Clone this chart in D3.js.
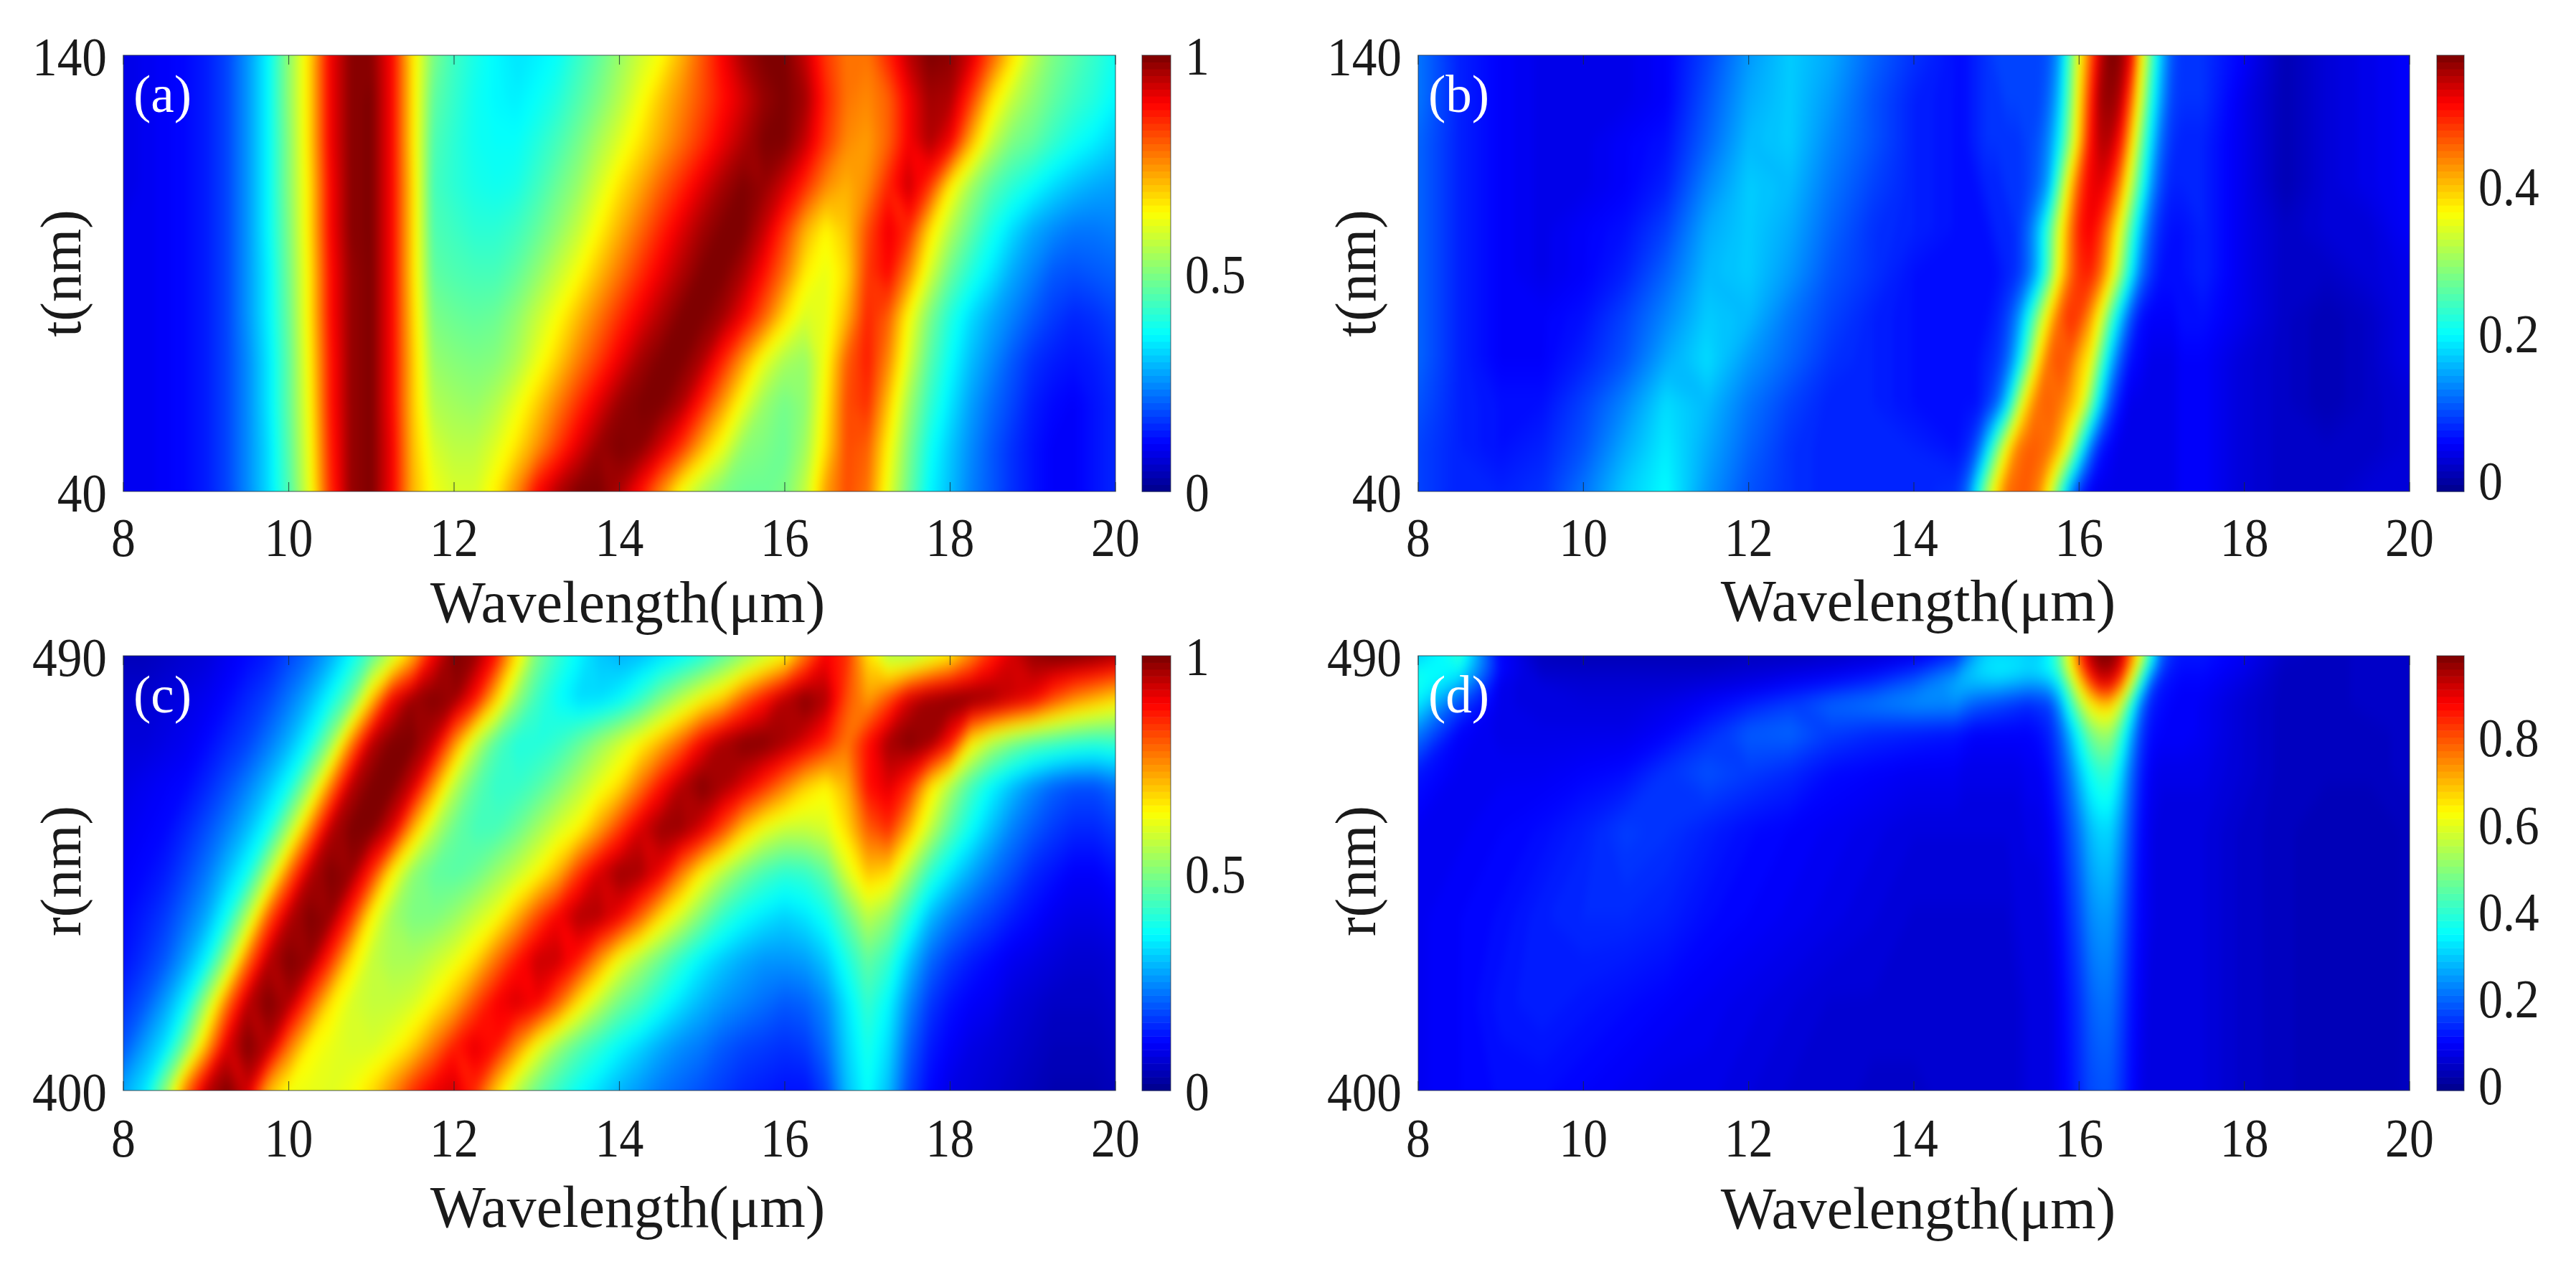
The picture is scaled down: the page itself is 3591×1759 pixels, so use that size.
<!DOCTYPE html>
<html>
<head>
<meta charset="utf-8">
<script src="https://cdnjs.cloudflare.com/ajax/libs/d3/7.8.5/d3.min.js"></script>
<style>
  html, body { margin: 0; background: #fff; }
  text { font-family: "Liberation Serif", serif; fill: #1a1a1a; }
</style>
</head>
<body>
<div id="chart"></div>
<script>
// wavelength columns (um). a and c are even, b and d are denser around the narrow band
const wideLambda = [8,8.25,8.5,8.75,9,9.25,9.5,9.75,10,10.25,10.5,10.75,11,11.25,11.5,11.75,12,12.25,12.5,12.75,13,13.25,13.5,13.75,14,14.25,14.5,14.75,15,15.25,15.5,15.75,16,16.25,16.5,16.75,17,17.25,17.5,17.75,18,18.25,18.5,18.75,19,19.25,19.5,19.75,20];
const narrowLambda = [8,8.5,9,9.5,10,10.5,11,11.5,12,12.5,13,13.5,14,14.5,14.625,14.75,14.875,15,15.125,15.25,15.375,15.5,15.625,15.75,15.875,16,16.125,16.25,16.375,16.5,16.625,16.75,16.875,17,17.125,17.25,17.5,18,18.5,19,19.5,20];

const tLevels = [40,50,60,70,80,90,100,110,120,130,140];
const rLevels = [400,409,418,427,436,445,454,463,472,481,490];
const rLevelsD = [400,418,436,454,466,474,480,484,487,490];

// values, in percent, one row per t or r, lowest first
const panelA = [
  [10,10,11,12,14,18,25,33,45,62,85,98,100,90,72,63,60,60,66,76,89,96,100,100,96,88,76,63,55,50,48,48,50,58,74,82,78,62,48,36,30,24,20,16,13,11,11,13,15],
  [10,10,11,12,14,18,25,33,46,63,86,98,100,90,71,60,57,57,61,67,75,84,92,98,100,99,93,84,72,62,52,50,48,54,68,82,80,65,50,38,31,25,20,16,13,11,11,13,15],
  [10,10,11,12,14,18,25,34,47,64,87,98,100,89,70,56,54,53,56,62,69,77,85,92,98,100,100,96,86,74,62,53,49,52,66,82,85,70,54,42,34,27,22,18,14,12,11,13,15],
  [10,10,11,12,14,18,25,34,47,65,87,98,100,89,70,53,51,50,51,55,62,69,77,84,91,97,100,100,96,86,74,62,55,53,64,80,87,76,60,46,37,30,25,20,16,14,13,14,16],
  [10,10,11,12,14,18,26,35,48,66,88,98,100,89,69,50,48,47,48,52,58,64,71,78,85,91,96,100,100,97,90,80,68,60,62,72,86,80,64,50,40,33,28,24,20,17,15,16,18],
  [10,10,11,12,14,18,26,35,49,66,88,98,100,89,68,47,45,44,44,47,52,58,64,71,78,85,91,96,100,100,96,88,78,66,62,68,84,89,76,60,48,40,34,28,24,20,19,20,21],
  [10,10,11,12,14,18,26,36,50,67,89,99,100,89,68,45,43,41,41,43,47,52,58,65,72,79,86,92,97,100,100,94,84,72,65,70,82,91,85,68,56,47,39,33,28,25,23,23,24],
  [9,10,11,12,14,18,26,36,51,67,89,99,100,89,68,44,41,39,38,39,43,48,53,60,67,73,80,86,92,97,100,98,93,85,76,72,76,86,94,84,66,54,46,41,37,33,30,28,27],
  [9,10,11,12,14,18,26,36,51,68,90,99,100,89,67,45,41,38,37,37,40,44,49,55,61,67,73,79,85,91,96,100,100,94,84,76,74,80,90,96,90,72,58,50,47,42,38,35,32],
  [9,10,11,12,14,18,26,36,52,68,90,99,100,89,67,47,42,38,36,35,37,40,45,50,56,63,70,76,82,88,93,98,100,97,86,78,76,80,90,97,96,84,68,58,52,47,43,40,36],
  [9,10,11,12,14,18,26,36,52,68,90,99,99,89,67,50,43,39,36,34,35,37,42,47,53,59,64,72,81,90,97,100,100,94,84,78,78,86,95,100,99,93,81,68,57,50,46,42,38]
];

const panelB = [
  [9,7,7,8,12,17,20,14,10,8,7,7,7,8,11,19,30,39,45,46,46,44,37,26,15,8,5,4,4,4,4,4,4,4,4,5,5,3,2,2,3,3],
  [9,7,6,7,10,15,19,15,11,8,7,7,7,6,7,10,17,27,37,44,46,46,45,41,34,23,13,7,5,4,4,4,4,4,4,5,5,3,2,2,2,3],
  [10,7,6,6,9,13,18,16,12,9,7,7,6,6,6,6,8,11,18,30,40,45,46,45,42,38,29,18,10,6,4,4,4,4,4,5,5,3,2,1,2,3],
  [11,7,5,5,7,10,15,18,14,11,8,7,6,6,6,6,7,8,11,17,27,38,45,47,46,41,37,27,17,10,6,5,4,4,4,5,5,3,2,1,2,4],
  [11,7,5,5,6,9,13,17,16,12,9,7,6,6,6,6,6,7,9,13,20,29,38,45,49,48,43,36,26,17,10,6,5,5,5,6,6,4,2,1,2,4],
  [11,7,5,4,5,7,11,16,17,14,10,8,6,6,6,6,6,6,7,8,11,16,25,36,44,49,50,46,39,30,20,12,8,6,6,6,7,4,2,2,3,4],
  [11,7,5,4,5,6,9,15,17,15,11,8,7,6,6,6,6,7,7,8,11,16,24,34,43,50,52,49,43,35,25,16,10,7,6,6,7,4,2,3,3,5],
  [11,7,5,4,4,5,7,13,17,16,12,9,7,6,6,6,7,7,8,8,9,11,15,26,38,47,52,53,50,43,33,23,14,9,7,7,7,4,1,3,4,5],
  [11,7,5,4,4,5,6,11,16,17,13,10,7,6,6,7,8,8,8,8,9,10,13,19,29,40,50,55,55,50,40,28,18,11,8,7,7,4,1,3,4,5],
  [12,7,5,4,4,4,5,10,15,17,14,10,7,6,6,7,8,8,9,9,9,9,11,16,26,38,48,56,57,55,46,34,22,14,9,8,8,4,1,3,4,5],
  [12,7,5,4,4,4,5,9,14,17,15,11,8,6,6,7,8,9,9,9,9,9,10,14,24,36,45,54,58,57,52,38,26,16,10,8,8,5,1,3,4,5]
];

const panelC = [
  [28,34,52,78,95,100,93,72,63,62,61,63,68,76,85,91,93,85,70,57,48,42,37,33,29,26,23,21,19,17,15,14,13,13,18,30,37,30,18,12,9,8,7,6,5,4,4,4,5],
  [20,27,34,50,72,92,100,95,78,65,62,60,60,63,69,78,87,92,88,76,63,53,46,41,36,32,28,25,23,20,18,17,16,17,22,32,39,33,21,14,11,9,8,7,6,5,5,5,6],
  [16,20,27,36,55,78,95,100,96,82,67,60,58,58,60,65,72,82,90,93,90,80,67,57,49,44,38,33,29,26,24,22,20,21,25,34,42,36,25,17,13,11,10,8,7,6,6,6,7],
  [13,16,20,27,36,54,78,95,100,98,85,68,58,55,55,58,62,68,78,87,94,94,87,75,63,55,48,41,35,31,28,26,26,27,31,39,47,42,31,22,17,14,12,10,9,8,7,7,8],
  [12,14,17,22,28,38,56,80,95,100,98,85,65,54,50,50,53,58,63,72,82,90,96,96,90,80,68,59,50,42,37,34,32,34,38,47,57,52,41,30,24,20,17,14,12,10,9,9,10],
  [11,12,14,18,23,30,38,56,78,95,100,98,85,65,52,47,46,48,53,58,64,72,84,93,98,97,90,77,65,56,49,44,41,42,47,60,70,68,55,42,34,28,23,19,15,13,11,11,13],
  [10,11,12,15,19,24,30,38,55,76,95,100,100,92,72,57,48,44,44,48,54,60,65,74,84,93,98,98,92,82,70,62,58,58,60,68,80,85,72,58,46,37,30,24,20,17,15,15,17],
  [9,10,11,12,15,19,24,30,38,54,76,95,100,100,93,75,57,47,42,42,45,50,56,62,68,78,88,96,100,97,92,85,77,69,65,72,88,92,85,68,55,44,36,30,25,21,19,19,22],
  [8,8,9,10,12,15,18,23,29,37,52,76,95,100,100,94,76,58,46,40,40,42,47,53,59,65,72,80,90,97,100,100,97,92,86,78,88,97,100,98,88,66,56,50,46,44,42,41,42],
  [7,7,8,9,10,12,15,18,23,29,37,48,70,90,98,100,98,88,70,53,43,37,33,33,36,42,50,57,64,70,80,88,96,100,96,82,74,82,93,98,100,100,98,94,90,82,76,72,68],
  [5,5,6,7,8,10,12,14,18,22,28,36,46,58,72,90,100,98,88,68,50,42,36,31,29,30,33,36,40,46,52,58,64,78,90,85,68,56,55,60,66,76,86,93,98,100,100,99,97]
];

const panelD = [
  [9,10,11,11,10,9,8,8,7,6,6,5,5,6,6,6,6,6,6,6,7,7,7,9,11,14,17,18,18,15,11,8,7,7,7,7,7,5,4,3,3,4],
  [9,10,12,13,12,11,10,9,8,7,6,6,6,6,6,6,6,6,6,6,7,7,7,9,12,15,19,21,21,17,12,9,7,7,7,7,7,5,4,3,3,4],
  [9,10,11,13,14,14,13,11,10,9,8,7,6,6,6,6,6,6,6,7,7,7,8,10,14,18,23,25,25,20,14,10,8,7,7,7,7,5,4,3,3,4],
  [9,9,10,11,13,16,15,13,11,10,9,8,7,7,7,7,7,7,7,7,8,8,9,12,17,22,28,31,31,25,17,11,8,7,7,7,7,5,4,3,3,4],
  [12,9,9,9,10,11,15,18,16,14,11,10,9,9,8,8,8,8,8,8,9,9,11,15,21,29,36,40,40,32,21,13,9,8,8,8,8,6,4,4,4,5],
  [22,10,8,8,8,8,10,14,19,20,16,14,13,12,11,10,10,10,10,10,10,11,13,18,27,37,47,52,52,42,28,16,11,10,10,10,9,6,4,4,4,5],
  [33,17,8,7,7,7,8,10,13,16,20,22,24,24,21,19,18,17,16,15,14,15,16,24,38,52,63,68,68,58,40,22,13,11,10,10,9,6,4,4,5,5],
  [37,28,8,7,6,6,6,7,8,10,12,15,20,27,28,28,28,28,27,26,25,25,27,33,48,65,78,88,88,77,58,36,18,12,11,10,10,7,4,4,5,5],
  [36,35,11,5,5,5,5,5,6,7,8,10,14,22,28,31,33,34,34,33,32,33,35,42,58,74,88,95,95,88,70,48,28,16,12,11,11,8,4,4,5,5],
  [30,40,10,4,3,3,3,3,4,4,5,6,8,14,20,26,30,31,31,31,30,30,34,44,62,80,94,99,99,94,78,60,38,20,14,12,12,9,5,4,5,5]
];

const xTicks = [8,10,12,14,16,18,20];
const barTicksA = [0,50,100];
const barTicksB = [0,20,40];
const barTicksC = [0,50,100];
const barTicksD = [0,20,40,60,80];

const panels = [
  { tag:"(a)", rows:panelA, lambda:wideLambda,   levels:tLevels,  yLabel:"t(nm)", domain:[0,100],     barTicks:barTicksA, left:172,  right:1555, top:77,  bottom:685,  barL:1592, barR:1632, xBase:775,  xTitle:867,  xTitleX:875 },
  { tag:"(b)", rows:panelB, lambda:narrowLambda, levels:tLevels,  yLabel:"t(nm)", domain:[-1.6,57.8], barTicks:barTicksB, left:1977, right:3359, top:77,  bottom:685,  barL:3397, barR:3435, xBase:775,  xTitle:865,  xTitleX:2674 },
  { tag:"(c)", rows:panelC, lambda:wideLambda,   levels:rLevels,  yLabel:"r(nm)", domain:[0,100],     barTicks:barTicksC, left:172,  right:1555, top:914, bottom:1520, barL:1592, barR:1632, xBase:1612, xTitle:1710, xTitleX:875 },
  { tag:"(d)", rows:panelD, lambda:narrowLambda, levels:rLevelsD, yLabel:"r(nm)", domain:[-1.3,98.7], barTicks:barTicksD, left:1977, right:3359, top:914, bottom:1520, barL:3397, barR:3435, xBase:1612, xTitle:1712, xTitleX:2674 }
];

const jet = d3.scaleLinear()
  .domain([0, 0.11, 0.36, 0.64, 0.89, 1])
  .range(["#00008a", "#0000ff", "#00ffff", "#ffff00", "#ff0000", "#7a0000"]);

const svg = d3.select("#chart").append("svg")
  .attr("width", 3591)
  .attr("height", 1759);

// soften the stair steps the coarse grid leaves on slanted bands
const soften = svg.append("defs").append("filter")
  .attr("id", "soften")
  .attr("filterUnits", "objectBoundingBox")
  .attr("x", "-5%").attr("y", "-5%").attr("width", "110%").attr("height", "110%")
  .attr("color-interpolation-filters", "sRGB");
soften.append("feGaussianBlur").attr("stdDeviation", "5 11");

// squeeze the glyphs a little, the original picture is narrower than normal type
function squeeze(sel, k) {
  sel.each(function () {
    const len = this.getComputedTextLength();
    d3.select(this).attr("textLength", len * k).attr("lengthAdjust", "spacingAndGlyphs");
  });
}

panels.forEach((p, n) => {
  const g = svg.append("g");
  const clipId = "clip" + n;
  const nCols = p.lambda.length;
  const nRows = p.levels.length;
  const loLevel = p.levels[0];
  const hiLevel = p.levels[nRows - 1];

  svg.append("clipPath").attr("id", clipId).append("rect")
    .attr("x", p.left).attr("y", p.top)
    .attr("width", p.right - p.left).attr("height", p.bottom - p.top);

  const x = d3.scaleLinear().domain([8, 20]).range([p.left, p.right]);
  const y = d3.scaleLinear().domain([loLevel, hiLevel]).range([p.bottom, p.top]);
  const color = d3.scaleLinear().domain(p.domain).range([0, 1]).clamp(true);

  // contour coordinates sit half a step off the grid points, the outer half step
  // is stretched past the axes so the blur has something to work with at the edges
  const colToLambda = d3.scaleLinear()
    .domain([0, ...p.lambda.map((d, i) => i + 0.5), nCols])
    .range([6, ...p.lambda, 22]);
  const rowToLevel = d3.scaleLinear()
    .domain([0, ...p.levels.map((d, i) => i + 0.5), nRows])
    .range([loLevel - (hiLevel - loLevel) / 5, ...p.levels, hiLevel + (hiLevel - loLevel) / 5]);

  const projection = d3.geoTransform({
    point: function (cx, cy) {
      this.stream.point(x(colToLambda(cx)), y(rowToLevel(cy)));
    }
  });
  const path = d3.geoPath(projection);

  const steps = 128;
  const thresholds = d3.range(steps).map(i => p.domain[0] + (i + 0.5) / steps * (p.domain[1] - p.domain[0]));
  const contours = d3.contours()
    .size([nCols, nRows])
    .thresholds(thresholds)(p.rows.flat());

  const plot = g.append("g").attr("clip-path", `url(#${clipId})`)
    .append("g").attr("filter", "url(#soften)");
  plot.append("rect")
    .attr("x", p.left - 100).attr("y", p.top - 100)
    .attr("width", p.right - p.left + 200).attr("height", p.bottom - p.top + 200)
    .attr("fill", jet(0));
  plot.selectAll("path").data(contours).enter().append("path")
    .attr("d", path)
    .attr("fill", d => jet(color(d.value)));

  // ticks point inwards on both the bottom and the top edge
  const ticks = g.append("g").attr("stroke", "#1c2b33").attr("stroke-width", 1.2).attr("opacity", 0.75);
  ticks.selectAll(".b").data(xTicks).enter().append("line")
    .attr("class", "b")
    .attr("x1", d => x(d)).attr("x2", d => x(d))
    .attr("y1", p.bottom).attr("y2", p.bottom - 13);
  ticks.selectAll(".t").data(xTicks).enter().append("line")
    .attr("class", "t")
    .attr("x1", d => x(d)).attr("x2", d => x(d))
    .attr("y1", p.top).attr("y2", p.top + 13);

  g.append("rect")
    .attr("x", p.left).attr("y", p.top)
    .attr("width", p.right - p.left).attr("height", p.bottom - p.top)
    .attr("fill", "none").attr("stroke", "#26323a").attr("stroke-opacity", 0.55).attr("stroke-width", 1.5);

  g.selectAll(".xl").data(xTicks).enter().append("text")
    .attr("class", "xl")
    .attr("x", d => x(d)).attr("y", p.xBase)
    .attr("text-anchor", "middle")
    .attr("font-size", 77)
    .text(d => d)
    .call(squeeze, 0.88);

  g.selectAll(".yl").data([loLevel, hiLevel]).enter().append("text")
    .attr("class", "yl")
    .attr("x", p.left - 23).attr("y", d => y(d) + 28)
    .attr("text-anchor", "end")
    .attr("font-size", 77)
    .text(d => d)
    .call(squeeze, 0.9);

  g.append("text")
    .attr("x", p.xTitleX).attr("y", p.xTitle)
    .attr("text-anchor", "middle")
    .attr("font-size", 83)
    .text("Wavelength(μm)")
    .call(squeeze, 0.985);

  g.append("text")
    .attr("transform", `translate(${p.left - 60},${(p.top + p.bottom) / 2 + (n > 1 ? -3 : 0)}) rotate(-90)`)
    .attr("text-anchor", "middle")
    .attr("font-size", 80)
    .text(p.yLabel);

  g.append("text")
    .attr("x", p.left + 14).attr("y", p.top + 79)
    .attr("font-size", 73)
    .style("fill", "#fff")
    .text(p.tag);

  // colour bar
  const barY = d3.scaleLinear().domain(p.domain).range([p.bottom, p.top]);
  const barCells = d3.range(64);
  const cellH = (p.bottom - p.top) / 64;
  g.append("g").selectAll("rect").data(barCells).enter().append("rect")
    .attr("x", p.barL)
    .attr("width", p.barR - p.barL)
    .attr("y", d => p.bottom - (d + 1) * cellH)
    .attr("height", cellH + 0.5)
    .attr("fill", d => jet((d + 0.5) / 64));
  g.append("rect")
    .attr("x", p.barL).attr("y", p.top)
    .attr("width", p.barR - p.barL).attr("height", p.bottom - p.top)
    .attr("fill", "none").attr("stroke", "#26323a").attr("stroke-opacity", 0.5).attr("stroke-width", 1.5);

  g.selectAll(".bl").data(p.barTicks).enter().append("text")
    .attr("class", "bl")
    .attr("x", p.barR + 20)
    .attr("y", d => barY(d) + 27)
    .attr("font-size", 77)
    .text(d => d / 100)
    .call(squeeze, 0.88);
});
</script>
</body>
</html>
